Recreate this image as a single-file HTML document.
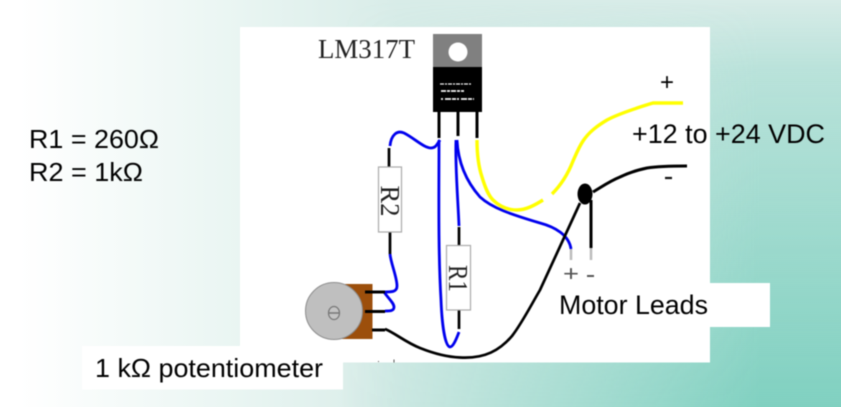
<!DOCTYPE html>
<html>
<head>
<meta charset="utf-8">
<style>
html,body{margin:0;padding:0;background:#fff}
#page{position:relative;width:841px;height:407px;overflow:hidden;background:linear-gradient(90deg,#fff 0,#fff 20px,#e9f5f2 240px,#d8ece8 400px,#d8ece8 841px)}
#teal{position:absolute;inset:0;background:linear-gradient(180deg,rgba(128,208,192,0) 0,rgba(128,208,192,.35) 70px,rgba(128,208,192,1) 407px);-webkit-mask-image:linear-gradient(90deg,transparent 340px,#000 760px);mask-image:linear-gradient(90deg,transparent 340px,#000 760px)}
svg{position:absolute;left:0;top:0;filter:blur(.6px)}
text{font-family:"Liberation Sans",sans-serif;fill:#000}
.s{font-family:"Liberation Serif",serif;fill:#222}
</style>
</head>
<body>
<div id="page">
<div id="teal"></div>
<svg width="841" height="407" viewBox="0 0 841 407" xmlns="http://www.w3.org/2000/svg">
  <rect x="240" y="27" width="470" height="335.500" fill="#fff"/>
  <rect x="555" y="283" width="215" height="44" fill="#fff"/>
  <rect x="82" y="346" width="261" height="43.500" fill="#fff"/>

  <text x="29" y="148" font-size="26" textLength="130" lengthAdjust="spacingAndGlyphs">R1 = 260Ω</text>
  <text x="29" y="181" font-size="26" textLength="114" lengthAdjust="spacingAndGlyphs">R2 = 1kΩ</text>
  <text class="s" x="318" y="58" font-size="27" textLength="97" lengthAdjust="spacingAndGlyphs">LM317T</text>

  <!-- regulator -->
  <rect x="433" y="34" width="49" height="33.500" fill="#808080"/>
  <rect x="433" y="67" width="49" height="45" fill="#000"/>
  <circle cx="458" cy="52" r="9.500" fill="#fff"/>
  <g stroke="#f2f2f2" fill="none">
    <path d="M440 84h32" stroke-width="1.200" stroke-dasharray="4 1 2 1"/>
    <path d="M441 91h23" stroke-width="1.800" stroke-dasharray="5 1 3 1"/>
    <path d="M441 99h33" stroke-width="1.800" stroke-dasharray="2 2 6 1 4 1"/>
  </g>
  <g stroke="#000" stroke-width="3" fill="none">
    <path d="M439 112V138M458 112V136M477 112V138"/>
  </g>

  <!-- yellow -->
  <g stroke="#ffff00" stroke-width="3.400" fill="none">
    <path d="M477 140C477 155 479 168 482 177C485 187 488 195 493 200C500 207 508 210 517 210C526 210 535 205 543 200"/>
    <path d="M552 194C560 186 568 174 573 161C577 152 579 147 583 141C589 132 597 126 607 120C620 113 640 107 653 103L683 103"/>
  </g>

  <!-- blue -->
  <g stroke="#0000ee" stroke-width="2.800" fill="none">
    <path d="M390 146C391 135 397 130 404 133C414 138 424 148 431 148C436 148 437 144 440 140"/>
    <path d="M439 140C439 190 438 250 441 300C442 325 445 346 450 347C453 347 456 340 459 332"/>
    <path d="M456 140C455 165 458 200 459 226"/>
    <path d="M457 140C458 160 465 180 480 197C492 208 510 214 540 223C555 227 569 235 571 249"/>
    <path d="M390 254C391 264 397 277 397 286C397 292 392 292 384 292C388 298 394 303 394 307C394 311 390 311 385 311"/>
  </g>

  <!-- black wires -->
  <g stroke="#000" stroke-width="2.700" fill="none">
    <path d="M385 329C395 333 405 342 420 348C435 354 447 357 460 357.500C485 359 500 350 512 336C522 323 530 307 540 290L580 203"/>
    <path d="M593 192C603 186 610 181 620 177C630 172 638 170 647 168C660 166 675 166 687 166" stroke-width="3"/>
    <path d="M591 200V248" stroke-width="3"/>
    <path d="M389 148V167M390 232V254M459 227V245M459 310V329"/>
  </g>
  <ellipse cx="585" cy="194" rx="7.500" ry="10.500" fill="#000"/>
  <path d="M571 249V260M591 248V260" stroke="#bbb" stroke-width="2.500"/>

  <!-- resistors -->
  <rect x="378.500" y="167" width="23" height="65" fill="#fff" stroke="#aaa" stroke-width="1.200"/>
  <rect x="446.500" y="245.500" width="24" height="64.500" fill="#fff" stroke="#aaa" stroke-width="1.200"/>
  <text class="s" font-size="27" text-anchor="middle" transform="translate(381,201) rotate(90)" textLength="31" lengthAdjust="spacingAndGlyphs">R2</text>
  <text class="s" font-size="27" text-anchor="middle" transform="translate(449,278.500) rotate(90)" textLength="27" lengthAdjust="spacingAndGlyphs">R1</text>

  <!-- potentiometer -->
  <rect x="334" y="284" width="38.500" height="55" fill="#9c4f0c"/>
  <path d="M365 292H385M365 311.500H385M372 330H385" stroke="#000" stroke-width="3"/>
  <circle cx="334" cy="311" r="28.500" fill="#bfbfbf" stroke="#8c8c8c" stroke-width="1"/>
  <ellipse cx="334" cy="313" rx="5.500" ry="6.500" fill="#c4c4c4" stroke="#777" stroke-width="1.200"/>
  <path d="M329 313H339" stroke="#777" stroke-width="1.500"/>
  <path d="M378 361.500h1M394 359.500v3" stroke="#555" stroke-width="1"/>

  <!-- labels -->
  <text x="660" y="90" font-size="24" textLength="14" lengthAdjust="spacingAndGlyphs">+</text>
  <text x="632" y="143" font-size="26.500" textLength="193" lengthAdjust="spacingAndGlyphs">+12 to +24 VDC</text>
  <path d="M665 178H672" stroke="#111" stroke-width="2.200"/>
  <text x="563" y="281" font-size="22" style="fill:#555" textLength="16" lengthAdjust="spacingAndGlyphs">+</text>
  <path d="M587 276H594" stroke="#555" stroke-width="2"/>
  <text x="559" y="314" font-size="26.500" textLength="149" lengthAdjust="spacingAndGlyphs">Motor Leads</text>
  <text x="95" y="377" font-size="26" textLength="228" lengthAdjust="spacingAndGlyphs">1 kΩ potentiometer</text>
</svg>
</div>
</body>
</html>
